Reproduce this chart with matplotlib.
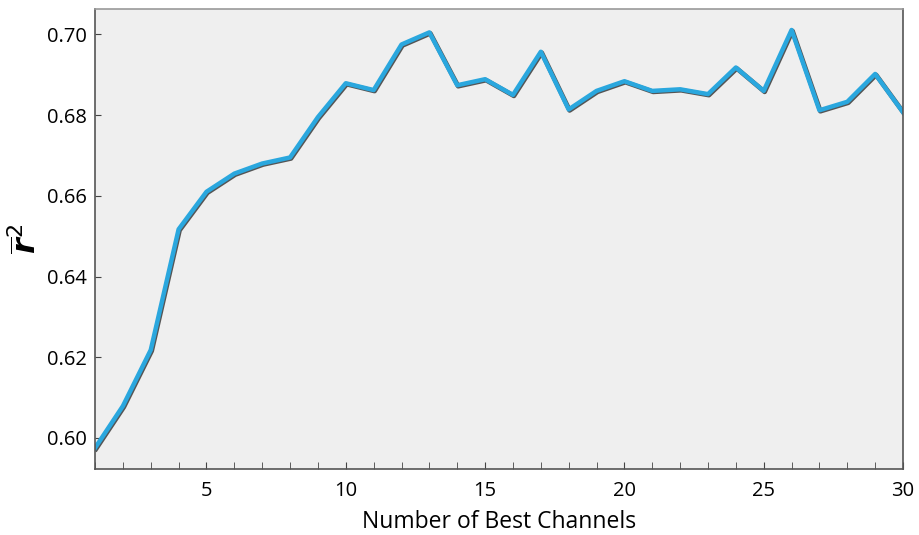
import matplotlib
matplotlib.use("Agg")
import matplotlib.pyplot as plt
import matplotlib.patheffects as pe
from matplotlib.ticker import MultipleLocator

channels = list(range(1, 31))
r2_mean = [0.5975, 0.6079, 0.6218, 0.6517, 0.6610, 0.6655, 0.6680, 0.6695,
           0.6795, 0.6879, 0.6862, 0.6975, 0.7005, 0.6874, 0.6889, 0.6850,
           0.6957, 0.6814, 0.6860, 0.6884, 0.6860, 0.6864, 0.6852, 0.6918,
           0.6860, 0.7011, 0.6812, 0.6833, 0.6902, 0.6807]
x_ticks = [5, 10, 15, 20, 25, 30]
y_ticks = [0.60, 0.62, 0.64, 0.66, 0.68, 0.70]

plt.rcParams['font.family'] = ['Open Sans', 'DejaVu Sans']
plt.rcParams['mathtext.fontset'] = 'dejavusans'

fig = plt.figure(figsize=(9.19, 5.35), dpi=100)
ax = fig.add_axes([0.1034, 0.1234, 0.8792, 0.8598])
ax.set_facecolor('#efefef')

# mean r^2 curve with a thin dark drop shadow
ax.plot(channels, r2_mean, color='#2aa7de', linewidth=3.2,
        path_effects=[pe.Stroke(linewidth=3.4, foreground='#3a3a3a', alpha=0.85,
                                offset=(0.7, -0.7)),
                      pe.Normal()])

ax.set_xlim(1, 30)
ax.set_ylim(0.5923, 0.7063)
ax.set_xticks(x_ticks)
ax.xaxis.set_minor_locator(MultipleLocator(1))
ax.set_yticks(y_ticks)
ax.set_yticklabels([f"{v:.2f}" for v in y_ticks])

ax.tick_params(axis='both', which='both', direction='in', colors='#444444',
               labelcolor='black', labelsize=14.5)
ax.tick_params(axis='x', which='major', length=5, pad=9)
ax.tick_params(axis='x', which='minor', length=5)
ax.tick_params(axis='y', which='major', length=4, pad=6)
ax.tick_params(top=False, right=False)

for side in ['left', 'bottom', 'right']:
    ax.spines[side].set_color('#555555')
    ax.spines[side].set_linewidth(1.2)
ax.spines['top'].set_color('#999999')
ax.spines['top'].set_linewidth(1.2)

ax.set_xlabel('Number of Best Channels', fontsize=16.5, labelpad=6)
ax.set_ylabel(r'$\overline{\mathbfit{r}}^{2}$', fontsize=23, labelpad=2)

fig.savefig('out.png', dpi=100, facecolor='white')
